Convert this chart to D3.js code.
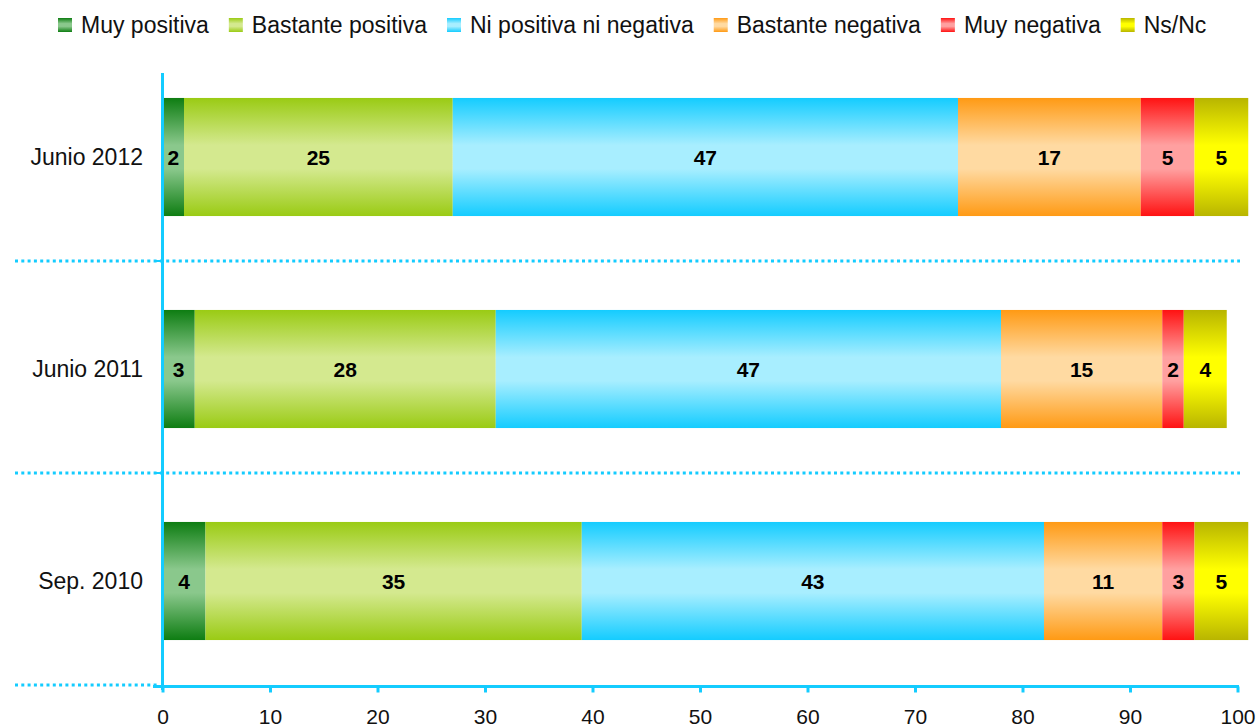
<!DOCTYPE html>
<html>
<head>
<meta charset="utf-8">
<title>Valoración</title>
<script src="https://cdn.jsdelivr.net/npm/d3@7"></script>
<style>
    body { margin: 0; background: #fff; }
    text { font-family: "Liberation Sans", Arial, sans-serif; }
</style>
</head>
<body>
<div id="chart"></div>
<script>
// data
var categories = ["Junio 2012", "Junio 2011", "Sep. 2010"];
var seriesNames = ["Muy positiva", "Bastante positiva", "Ni positiva ni negativa", "Bastante negativa", "Muy negativa", "Ns/Nc"];
var muyPositiva = [2, 3, 4];
var bastantePositiva = [25, 28, 35];
var niPositivaNiNegativa = [47, 47, 43];
var bastanteNegativa = [17, 15, 11];
var muyNegativa = [5, 2, 3];
var nsNc = [5, 4, 5];
var xTicks = [0, 10, 20, 30, 40, 50, 60, 70, 80, 90, 100];

// edge / middle colours of each gradient
var darkColors = ["#0e7d12", "#9acb14", "#14ccff", "#ff9a14", "#ff1212", "#b8b500"];
var lightColors = ["#8ac88c", "#d4e98f", "#a8eeff", "#ffdaa2", "#ffa0a0", "#ffff00"];

var allSeries = [muyPositiva, bastantePositiva, niPositivaNiNegativa, bastanteNegativa, muyNegativa, nsNc];
var table = categories.map(function(c, i) {
    var row = { cat: c };
    seriesNames.forEach(function(s, j) { row[s] = allSeries[j][i]; });
    return row;
});

var W = 1256, H = 727;
var axisColor = "#14ccff";

var svg = d3.select("#chart").append("svg")
    .attr("width", W)
    .attr("height", H);

var defs = svg.append("defs");
seriesNames.forEach(function(s, j) {
    var g = defs.append("linearGradient")
        .attr("id", "grad" + j)
        .attr("x1", 0).attr("y1", 0).attr("x2", 0).attr("y2", 1);
    g.append("stop").attr("offset", "0%").attr("stop-color", darkColors[j]);
    g.append("stop").attr("offset", "40%").attr("stop-color", lightColors[j]);
    g.append("stop").attr("offset", "60%").attr("stop-color", lightColors[j]);
    g.append("stop").attr("offset", "100%").attr("stop-color", darkColors[j]);
});

var x = d3.scaleLinear().domain([0, 100]).range([162.5, 1237.5]);
var y = d3.scaleBand().domain(categories).range([51, 687])
    .paddingInner(0.443).paddingOuter(0.2215);

var stacked = d3.stack().keys(seriesNames)(table);

// bars
var layers = svg.append("g").selectAll("g")
    .data(stacked)
    .enter().append("g")
    .attr("fill", function(d, i) { return "url(#grad" + i + ")"; });

layers.selectAll("rect")
    .data(function(d) { return d; })
    .enter().append("rect")
    .attr("x", function(d) { return x(d[0]); })
    .attr("y", function(d) { return y(d.data.cat); })
    .attr("width", function(d) { return x(d[1]) - x(d[0]); })
    .attr("height", y.bandwidth());

// value labels
layers.selectAll("text")
    .data(function(d) { return d; })
    .enter().append("text")
    .attr("x", function(d) { return (x(d[0]) + x(d[1])) / 2; })
    .attr("y", function(d) { return y(d.data.cat) + y.bandwidth() / 2; })
    .attr("dy", "0.36em")
    .attr("text-anchor", "middle")
    .attr("font-size", "21px")
    .attr("font-weight", "bold")
    .attr("fill", "#000")
    .text(function(d) { return d[1] - d[0]; });

// dotted separators between the categories
var step = y.step();
[1, 2].forEach(function(i) {
    var yy = y.range()[0] + i * step - 2;
    svg.append("line")
        .attr("x1", 15).attr("x2", 1240)
        .attr("y1", yy).attr("y2", yy)
        .attr("stroke", axisColor).attr("stroke-width", 3)
        .attr("stroke-dasharray", "3,3.3");
    svg.append("line")
        .attr("x1", 155).attr("x2", 162)
        .attr("y1", yy).attr("y2", yy)
        .attr("stroke", axisColor).attr("stroke-width", 2);
});
svg.append("line")
    .attr("x1", 15).attr("x2", 158)
    .attr("y1", 685).attr("y2", 685)
    .attr("stroke", axisColor).attr("stroke-width", 3)
    .attr("stroke-dasharray", "3,3.3");

// vertical axis line
svg.append("line")
    .attr("x1", x(0)).attr("x2", x(0))
    .attr("y1", 73).attr("y2", 690)
    .attr("stroke", axisColor).attr("stroke-width", 3);

// category labels
svg.append("g").selectAll("text")
    .data(categories)
    .enter().append("text")
    .attr("x", 143)
    .attr("y", function(d) { return y(d) + y.bandwidth() / 2; })
    .attr("dy", "0.36em")
    .attr("text-anchor", "end")
    .attr("font-size", "23px")
    .attr("fill", "#111")
    .text(function(d) { return d; });

// bottom axis
var xAxis = svg.append("g")
    .attr("transform", "translate(0,686.5)")
    .call(d3.axisBottom(x).tickValues(xTicks).tickSize(6).tickSizeOuter(0));
xAxis.select(".domain").remove();
xAxis.selectAll(".tick line")
    .attr("stroke", axisColor).attr("stroke-width", 3);
xAxis.selectAll(".tick text")
    .attr("y", 23)
    .attr("font-size", "21px")
    .attr("font-family", "Liberation Sans, Arial, sans-serif")
    .attr("fill", "#111");
xAxis.append("line")
    .attr("x1", 153).attr("x2", x(100) + 1.5)
    .attr("y1", 0).attr("y2", 0)
    .attr("stroke", axisColor).attr("stroke-width", 3);

// legend
var legend = svg.append("g");
var lx = 58;
seriesNames.forEach(function(s, j) {
    legend.append("rect")
        .attr("x", lx).attr("y", 18)
        .attr("width", 14).attr("height", 14)
        .attr("fill", "url(#grad" + j + ")");
    var t = legend.append("text")
        .attr("x", lx + 23).attr("y", 25)
        .attr("dy", "0.36em")
        .attr("font-size", "23px")
        .attr("fill", "#111")
        .text(s);
    lx += 23 + t.node().getComputedTextLength() + 20;
});
</script>
</body>
</html>
